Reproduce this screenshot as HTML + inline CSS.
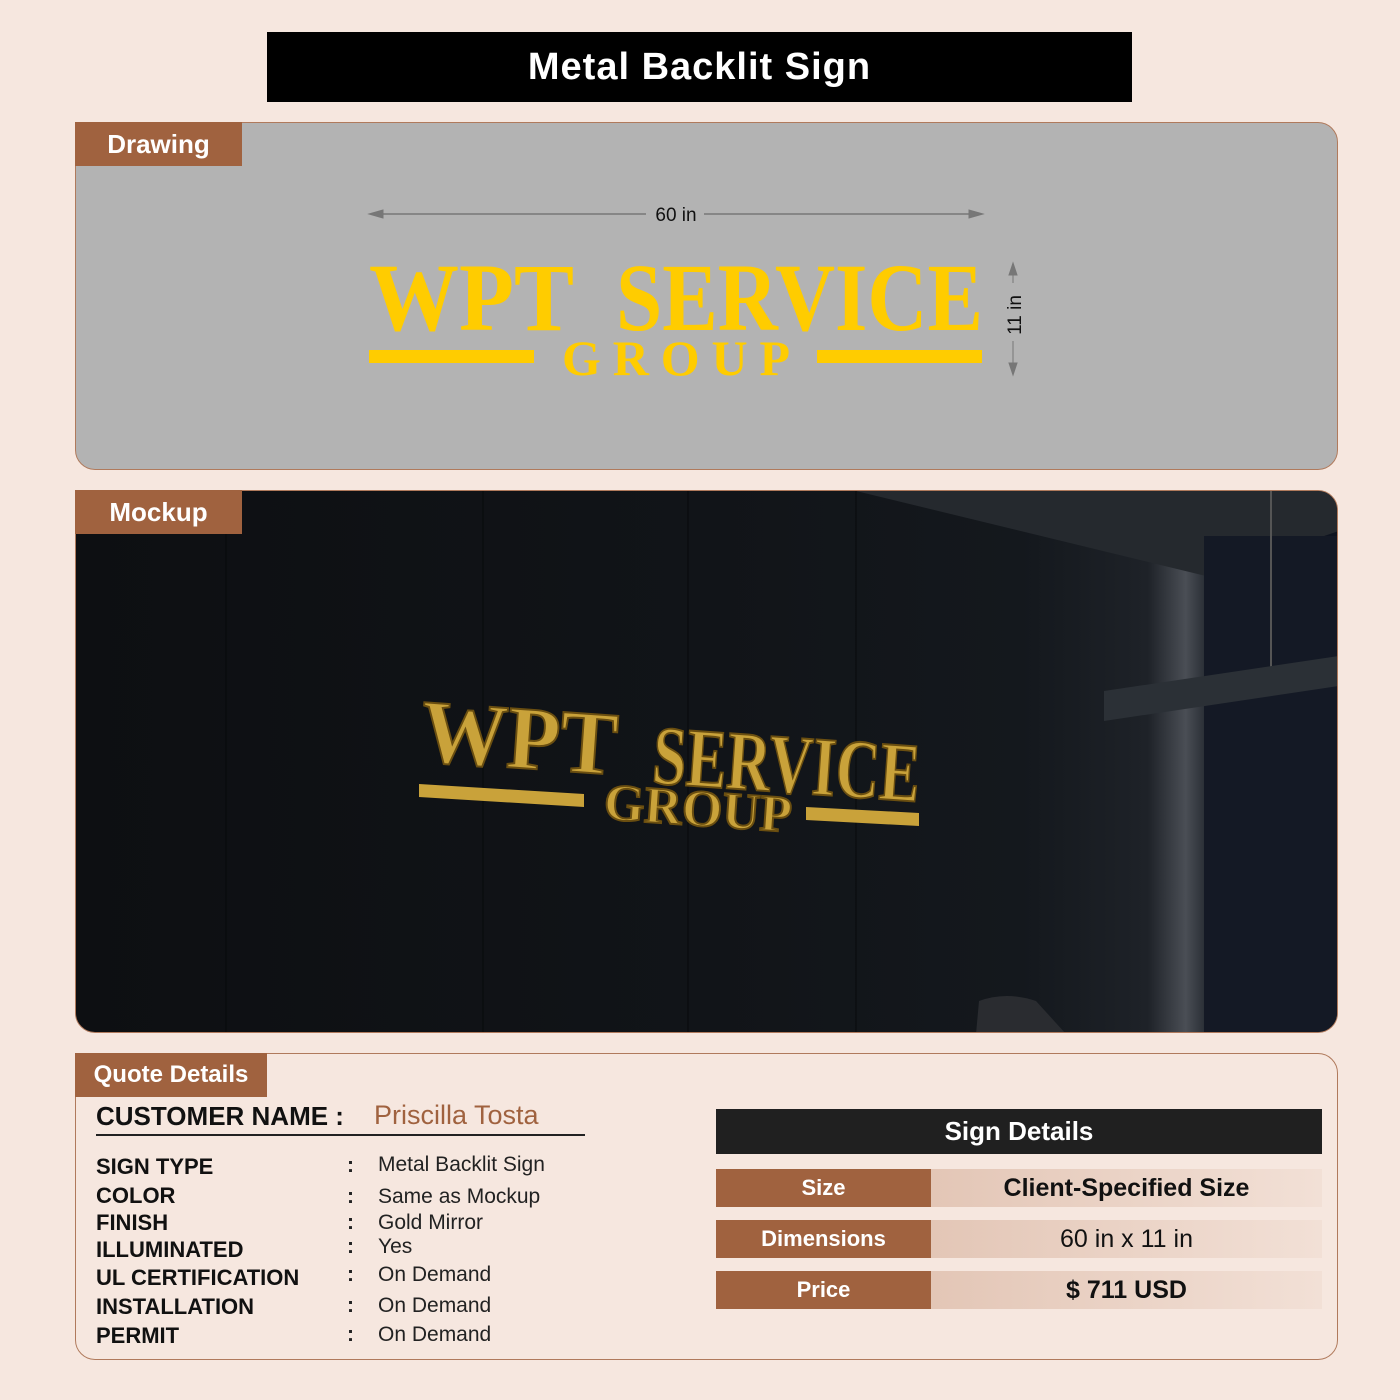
<!DOCTYPE html>
<html><head><style>
*{margin:0;padding:0;box-sizing:border-box}
body{width:1400px;height:1400px;background:#f6e7df;position:relative;font-family:"Liberation Sans",sans-serif;overflow:hidden}
.abs{position:absolute}
.tab{position:absolute;background:#a0623f;color:#fff;font-weight:bold;font-size:26px;display:flex;align-items:center;justify-content:center}
.panel{position:absolute;left:75px;width:1263px;border:1px solid #b07a5c;border-radius:20px;overflow:hidden}
.lbl{position:absolute;font-weight:bold;font-size:22px;color:#111}
.val{position:absolute;font-size:21px;color:#222}
.c{position:absolute;font-size:21px;color:#222;font-weight:bold}
.row{position:absolute;left:716px;width:606px;height:38px;display:flex}
.row .l{width:215px;background:#a0623f;color:#fff;font-weight:bold;font-size:22px;display:flex;align-items:center;justify-content:center}
.row .r{flex:1;background:linear-gradient(90deg,#e3c6b6,#f2e0d6);color:#111;font-weight:bold;font-size:25px;display:flex;align-items:center;justify-content:center}
</style></head><body>
<div class="abs" style="left:267px;top:32px;width:865px;height:70px;background:#000;color:#fff;font-weight:bold;font-size:38px;display:flex;align-items:center;justify-content:center;letter-spacing:1px">Metal Backlit Sign</div>

<div class="panel" style="top:122px;height:348px;background:#b3b3b3">
<svg class="abs" style="left:0;top:0" width="1263" height="348">
<g fill="#777" stroke="#777">
<line x1="295" y1="91" x2="570" y2="91" stroke-width="1.5"/><line x1="628" y1="91" x2="905" y2="91" stroke-width="1.5"/>
<polygon points="293,91 307,87 307,95"/><polygon points="907,91 893,87 893,95"/>
<line x1="937" y1="142" x2="937" y2="160"/><line x1="937" y1="218" x2="937" y2="250"/>
<polygon points="937,140 933,152 941,152"/><polygon points="937,252 933,240 941,240"/>
</g>
<text x="600" y="98" font-size="19" text-anchor="middle" fill="#111" font-family="Liberation Sans">60 in</text>
<text transform="translate(945,192) rotate(-90)" font-size="19" text-anchor="middle" fill="#111" font-family="Liberation Sans">11 in</text>
<text x="293" y="207" font-size="96" font-weight="bold" fill="#ffcc00" font-family="Liberation Serif" textLength="205" lengthAdjust="spacingAndGlyphs">WPT</text>
<text x="540" y="207" font-size="96" font-weight="bold" fill="#ffcc00" font-family="Liberation Serif" textLength="367" lengthAdjust="spacingAndGlyphs">SERVICE</text>
<rect x="293" y="227" width="165" height="13" fill="#ffcc00"/><rect x="741" y="227" width="165" height="13" fill="#ffcc00"/>
<text x="486" y="252" font-size="50" font-weight="bold" fill="#ffcc00" font-family="Liberation Serif" textLength="228" lengthAdjust="spacing">GROUP</text>
</svg>
</div>
<div class="tab" style="left:75px;top:122px;width:167px;height:44px">Drawing</div>

<div class="panel" style="top:490px;height:543px;background:linear-gradient(90deg,#0d0f12 0%,#111418 50%,#14181d 75%,#1e2228 85%,#4a4e55 88%,#20252c 90%,#111622 93%,#0f1420 100%)">
<svg class="abs" style="left:0;top:0" width="1263" height="543">
<polygon points="780,0 1263,0 1263,40 1130,85" fill="#25292e"/>
<rect x="1128" y="45" width="135" height="498" fill="#141925"/>
<line x1="1195" y1="0" x2="1195" y2="200" stroke="#555" stroke-width="2"/>
<polygon points="1028,200 1263,165 1263,195 1028,230" fill="#2b3036"/>
<line x1="150" y1="0" x2="150" y2="543" stroke="#07090b"/><line x1="407" y1="0" x2="407" y2="543" stroke="#07090b"/>
<line x1="612" y1="0" x2="612" y2="543" stroke="#07090b"/><line x1="780" y1="0" x2="780" y2="543" stroke="#07090b"/>
<path d="M900,543 L903,510 Q930,500 960,510 L990,543Z" fill="#2a2c30"/>
<g font-family="Liberation Serif" font-weight="bold" fill="#c9a23a" stroke="#6a4e10" stroke-width="2">
<text transform="translate(343,270) rotate(4)" font-size="90" textLength="197" lengthAdjust="spacingAndGlyphs">WPT</text>
<text transform="translate(575,292) rotate(4)" font-size="84" textLength="268" lengthAdjust="spacingAndGlyphs">SERVICE</text>
<text transform="translate(527,328) rotate(4)" font-size="52" textLength="188" lengthAdjust="spacingAndGlyphs">GROUP</text>
</g>
<polygon points="343,293 508,303 508,316 343,306" fill="#c9a23a"/>
<polygon points="730,316 843,322 843,335 730,329" fill="#c9a23a"/>
</svg>
</div>
<div class="tab" style="left:75px;top:490px;width:167px;height:44px">Mockup</div>

<div class="panel" style="top:1053px;height:307px;background:#f6e7df"></div>
<div class="tab" style="left:75px;top:1053px;width:192px;height:44px;font-size:24px">Quote Details</div>
<div class="lbl" style="left:96px;top:1101px;font-size:26px">CUSTOMER NAME :</div>
<div class="abs" style="left:374px;top:1100px;font-size:27px;color:#a0623f">Priscilla Tosta</div>
<div class="abs" style="left:96px;top:1134px;width:489px;height:2px;background:#222"></div>
<div class="lbl" style="left:96px;top:1154px">SIGN TYPE</div><div class="c" style="left:347px;top:1154px">:</div><div class="val" style="left:378px;top:1153px">Metal Backlit Sign</div>
<div class="lbl" style="left:96px;top:1183px">COLOR</div><div class="c" style="left:347px;top:1185px">:</div><div class="val" style="left:378px;top:1185px">Same as Mockup</div>
<div class="lbl" style="left:96px;top:1210px">FINISH</div><div class="c" style="left:347px;top:1211px">:</div><div class="val" style="left:378px;top:1211px">Gold Mirror</div>
<div class="lbl" style="left:96px;top:1237px">ILLUMINATED</div><div class="c" style="left:347px;top:1235px">:</div><div class="val" style="left:378px;top:1235px">Yes</div>
<div class="lbl" style="left:96px;top:1265px">UL CERTIFICATION</div><div class="c" style="left:347px;top:1263px">:</div><div class="val" style="left:378px;top:1263px">On Demand</div>
<div class="lbl" style="left:96px;top:1294px">INSTALLATION</div><div class="c" style="left:347px;top:1294px">:</div><div class="val" style="left:378px;top:1294px">On Demand</div>
<div class="lbl" style="left:96px;top:1323px">PERMIT</div><div class="c" style="left:347px;top:1323px">:</div><div class="val" style="left:378px;top:1323px">On Demand</div>

<div class="abs" style="left:716px;top:1109px;width:606px;height:45px;background:#202020;color:#fff;font-weight:bold;font-size:26px;display:flex;align-items:center;justify-content:center">Sign Details</div>
<div class="row" style="top:1169px"><div class="l">Size</div><div class="r">Client-Specified Size</div></div>
<div class="row" style="top:1220px"><div class="l">Dimensions</div><div class="r" style="font-weight:normal">60 in x 11 in</div></div>
<div class="row" style="top:1271px"><div class="l">Price</div><div class="r">$ 711 USD</div></div>
</body></html>
